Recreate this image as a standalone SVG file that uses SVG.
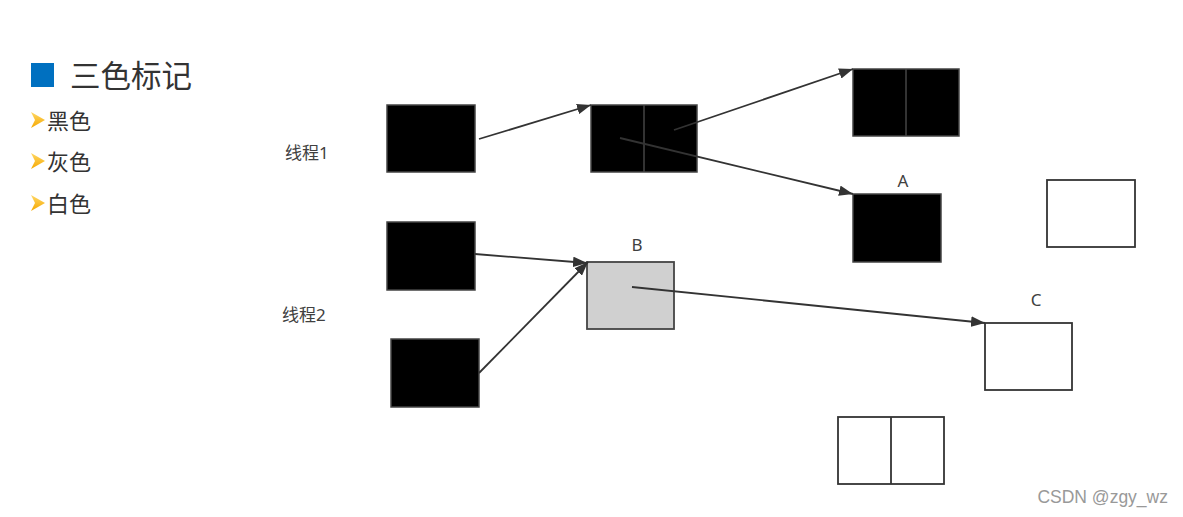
<svg xmlns="http://www.w3.org/2000/svg" width="1183" height="517" viewBox="0 0 1183 517">
<defs>
<marker id="ah" viewBox="0 0 12 9" refX="12" refY="4.5" markerWidth="14" markerHeight="10.5" markerUnits="userSpaceOnUse" orient="auto">
<path d="M0,0 L12,4.5 L0,9 Z" fill="#333"/>
</marker>
<linearGradient id="og" x1="0" y1="0" x2="0" y2="1">
<stop offset="0" stop-color="#ffd866"/>
<stop offset="1" stop-color="#f5a800"/>
</linearGradient>
</defs>
<style>
.blk{fill:#000;stroke:#444;stroke-width:1.5}
.wht{fill:#fff;stroke:#333;stroke-width:1.8}
.gry{fill:#d0d0d0;stroke:#444;stroke-width:1.8}
.div{stroke:#444;stroke-width:1.5}
.divw{stroke:#333;stroke-width:1.8}
.ed{stroke:#333;stroke-width:1.8;fill:none;marker-end:url(#ah)}
.t{font-family:"Noto Sans CJK SC","Noto Sans",sans-serif;fill:#333}
.lbl{font-family:"Noto Sans","Noto Sans CJK SC",sans-serif;fill:#404040;font-size:17px}
</style>
<rect width="1183" height="517" fill="#fff"/>
<g id="legend">
<rect x="31" y="63" width="23" height="24" fill="#0070c0"/>
<text class="t" x="70" y="87" font-size="30.5">三色标记</text>
<polygon points="31,112 45,120 31,128 35,120" fill="url(#og)"/>
<text class="t" x="47" y="129" font-size="22">黑色</text>
<polygon points="31,153 45,161 31,169 35,161" fill="url(#og)"/>
<text class="t" x="47" y="170" font-size="22">灰色</text>
<polygon points="31,195 45,203 31,211 35,203" fill="url(#og)"/>
<text class="t" x="47" y="212" font-size="22">白色</text>
</g>
<g id="labels">
<text class="lbl" x="285" y="159">线程1</text>
<text class="lbl" x="282" y="321">线程2</text>
<text class="lbl" x="903" y="187" text-anchor="middle">A</text>
<text class="lbl" x="637" y="251" text-anchor="middle">B</text>
<text class="lbl" x="1036" y="306" text-anchor="middle">C</text>
</g>
<g id="n1"><rect class="blk" x="387" y="105" width="88" height="67"/></g>
<g id="n2"><rect class="blk" x="591" y="105" width="106" height="67"/><line class="div" x1="644" y1="105" x2="644" y2="172"/></g>
<g id="n3"><rect class="blk" x="853" y="69" width="106" height="67"/><line class="div" x1="906" y1="69" x2="906" y2="136"/></g>
<g id="nA"><rect class="blk" x="853" y="194" width="88" height="68"/></g>
<g id="nW"><rect class="wht" x="1047" y="180" width="88" height="67"/></g>
<g id="n4"><rect class="blk" x="387" y="222" width="88" height="68"/></g>
<g id="n5"><rect class="blk" x="391" y="339" width="88" height="68"/></g>
<g id="nB"><rect class="gry" x="587" y="262" width="87" height="67"/></g>
<g id="nC"><rect class="wht" x="985" y="323" width="87" height="67"/></g>
<g id="n6"><rect class="wht" x="838" y="417" width="106" height="67"/><line class="divw" x1="891" y1="417" x2="891" y2="484"/></g>
<g id="edges">
<line class="ed" x1="479" y1="139" x2="591" y2="105"/>
<line class="ed" x1="674" y1="130" x2="853" y2="69"/>
<line class="ed" x1="620" y1="138" x2="853" y2="194"/>
<line class="ed" x1="475" y1="254" x2="587" y2="263"/>
<line class="ed" x1="479" y1="373" x2="588" y2="262"/>
<line class="ed" x1="632" y1="287" x2="985" y2="323"/>
</g>
<text x="1168" y="503" text-anchor="end" font-family="Liberation Sans, sans-serif" font-size="17.5" fill="#999">CSDN @zgy_wz</text>
</svg>
